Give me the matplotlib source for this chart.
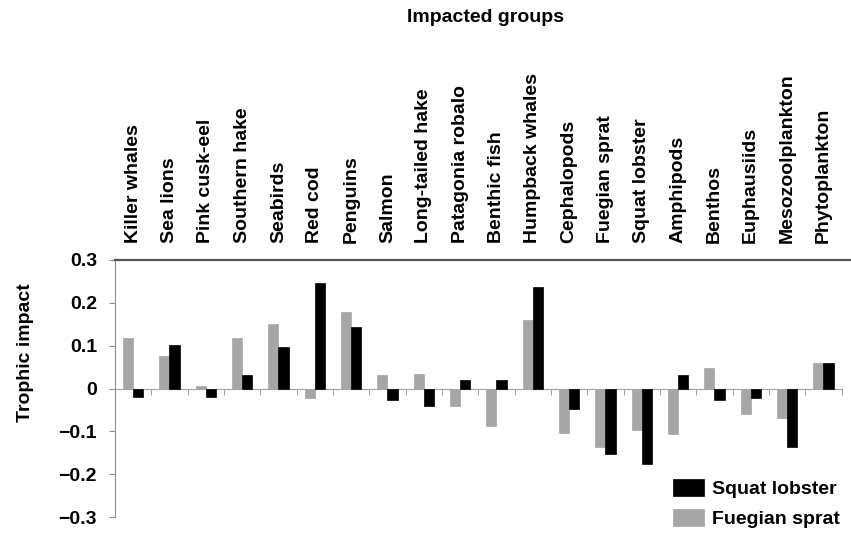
import numpy as np
import matplotlib
matplotlib.use("Agg")
from matplotlib import pyplot as plt

# impacted groups and trophic impact of the two impacting groups
groups = ["Killer whales", "Sea lions", "Pink cusk-eel", "Southern hake", "Seabirds",
          "Red cod", "Penguins", "Salmon", "Long-tailed hake", "Patagonia robalo",
          "Benthic fish", "Humpback whales", "Cephalopods", "Fuegian sprat", "Squat lobster",
          "Amphipods", "Benthos", "Euphausiids", "Mesozoolplankton", "Phytoplankton"]
fuegian_sprat = [0.118, 0.075, 0.007, 0.118, 0.151, -0.022, 0.178, 0.031, 0.033, -0.040,
                 -0.087, 0.161, -0.104, -0.137, -0.096, -0.107, 0.048, -0.060, -0.070, 0.060]
squat_lobster = [-0.019, 0.101, -0.019, 0.031, 0.096, 0.246, 0.144, -0.026, -0.040, 0.021,
                 0.021, 0.237, -0.048, -0.153, -0.176, 0.031, -0.026, -0.023, -0.137, 0.060]
yticks = [-0.3, -0.2, -0.1, 0, 0.1, 0.2, 0.3]
ytick_labels = ["\u22120.3", "\u22120.2", "\u22120.1", "0", "0.1", "0.2", "0.3"]

plt.rcParams['font.family'] = ['Liberation Sans', 'DejaVu Sans']
plt.rcParams['font.weight'] = 'bold'
FS = 14

fig = plt.figure(figsize=(8.51, 5.34), dpi=100)
ax = fig.add_axes([115 / 851, 17 / 534, 736 / 851, 257 / 534])

x = np.arange(len(groups))
w = 0.28
ax.bar(x - w / 2, fuegian_sprat, w, color='#a6a6a6', edgecolor='#a6a6a6', linewidth=0.5,
       label='Fuegian sprat', zorder=2)
ax.bar(x + w / 2, squat_lobster, w, color='black', edgecolor='black', linewidth=0.5,
       label='Squat lobster', zorder=2)

ax.set_xlim(-0.5, 19.76)
ax.set_ylim(-0.3, 0.3)

# zero line with little ticks between groups
ax.spines['bottom'].set_position(('data', 0))
ax.spines['bottom'].set_bounds(-0.5, 19.5)
ax.spines['bottom'].set_color('#a0a0a0')
ax.spines['bottom'].set_zorder(1)
ax.spines['left'].set_color('#909090')
ax.spines['top'].set_color('#555555')
ax.spines['top'].set_linewidth(1.6)
ax.spines['right'].set_visible(False)

ax.set_xticks(x)
ax.set_xticklabels(groups, rotation=90, fontsize=FS, fontweight='bold')
ax.set_xticks(np.arange(0.5, len(groups), 1), minor=True)
ax.tick_params(axis='x', which='major', top=True, labeltop=True, bottom=False,
               labelbottom=False, length=0, pad=12)
ax.tick_params(axis='x', which='minor', top=False, bottom=True, length=4,
               direction='out', color='#909090')

ax.set_yticks(yticks)
ax.set_yticklabels(ytick_labels, fontsize=FS, fontweight='bold')
ax.tick_params(axis='y', length=4, direction='out', color='#909090', pad=9)

fig.text(486 / 851, 1 - 18 / 534, "Impacted groups", fontsize=FS, fontweight='bold',
         ha='center', va='center')
fig.text(25 / 851, 1 - 353 / 534, "Trophic impact", fontsize=FS, fontweight='bold',
         rotation=90, ha='center', va='center')

handles, labels = ax.get_legend_handles_labels()
leg = fig.legend(handles[::-1], labels[::-1], loc='lower left',
                 bbox_to_anchor=(673 / 851, 6 / 534), frameon=False,
                 handlelength=1.6, handleheight=1.0, handletextpad=0.4,
                 labelspacing=0.55, borderpad=0, borderaxespad=0,
                 prop={'size': FS, 'weight': 'bold'})

fig.savefig("out.png", dpi=100)
